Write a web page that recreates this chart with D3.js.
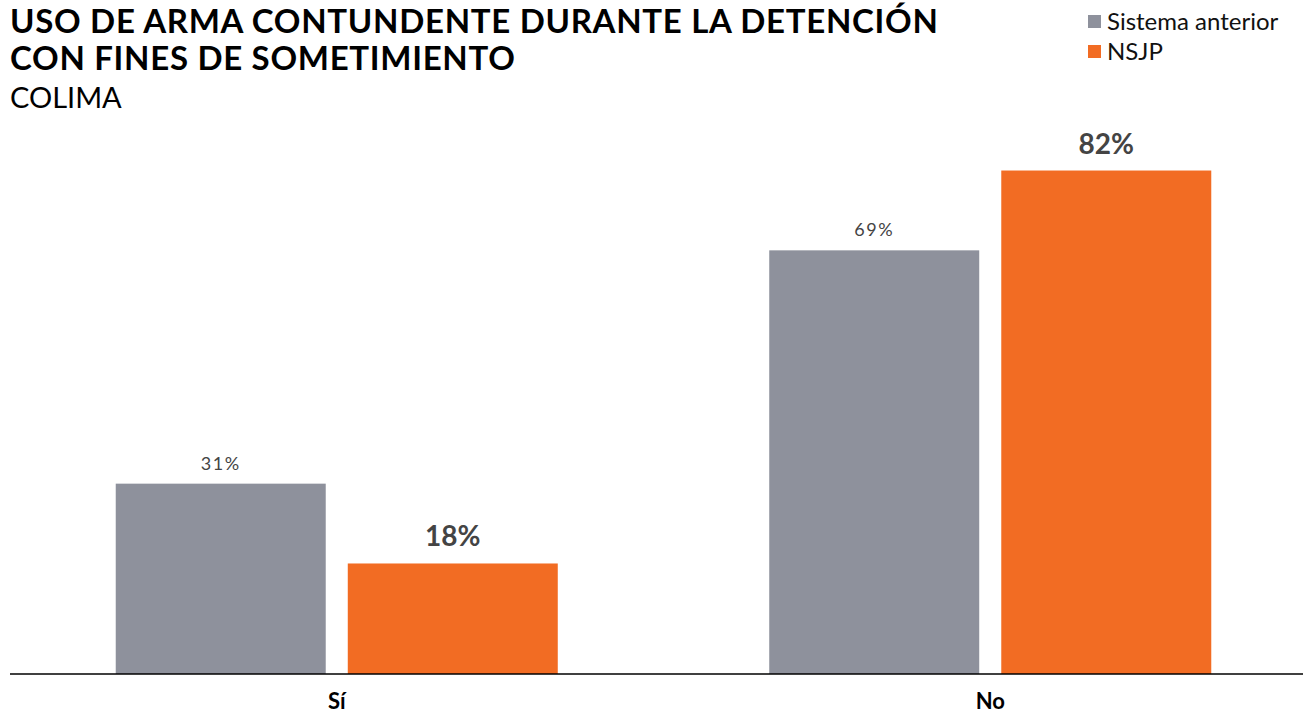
<!DOCTYPE html>
<html>
<head>
<meta charset="utf-8">
<script src="https://cdn.jsdelivr.net/npm/d3@7"></script>
<style>
  body { margin: 0; background: #fff; }
  svg { display: block; font-family: Lato, "Open Sans", sans-serif; }
</style>
</head>
<body>
<div id="chart"></div>
<script>
// data
const categories = ['Sí', 'No']
const seriesNames = ['Sistema anterior', 'NSJP']
const sistemaAnterior = [31, 69]
const nsjp = [18, 82]
const colors = ['#8e919c', '#f26c23']

const width = 1303
const height = 715
const baseline = 674

const svg = d3.select('#chart')
              .append('svg')
              .attr('width', width)
              .attr('height', height)

// title
svg.append('text')
   .attr('x', 10).attr('y', 33)
   .attr('font-size', '33px').attr('font-weight', 'bold').attr('fill', '#000')
   .attr('letter-spacing', '0.7px')
   .text('USO DE ARMA CONTUNDENTE DURANTE LA DETENCIÓN')
svg.append('text')
   .attr('x', 10).attr('y', 70)
   .attr('font-size', '33px').attr('font-weight', 'bold').attr('fill', '#000')
   .attr('letter-spacing', '0.7px')
   .text('CON FINES DE SOMETIMIENTO')
svg.append('text')
   .attr('x', 10).attr('y', 108)
   .attr('font-size', '29px').attr('fill', '#000')
   .text('COLIMA')

// legend
const legend = svg.selectAll('.legend')
                  .data(seriesNames)
                  .join('g')
                  .attr('class', 'legend')
                  .attr('transform', (d, i) => `translate(1088, ${15 + i * 30})`)
legend.append('rect')
      .attr('width', 13).attr('height', 13)
      .attr('fill', (d, i) => colors[i])
legend.append('text')
      .attr('x', 19).attr('y', 15)
      .attr('font-size', '24px').attr('fill', '#111')
      .text(d => d)

// scales
const x0 = d3.scaleBand()
             .domain(categories)
             .range([10, 1317])
             .paddingInner(0.3236)
             .paddingOuter(0.1618)

const x1 = d3.scaleBand()
             .domain(seriesNames)
             .range([0, x0.bandwidth()])
             .paddingInner(0.095)

const y = d3.scaleLinear()
            .domain([0, 100])
            .range([baseline, 60])

const rows = categories.map((c, i) => ({
  cat: c,
  values: [sistemaAnterior[i], nsjp[i]]
}))

const groups = svg.selectAll('.group')
                  .data(rows)
                  .join('g')
                  .attr('class', 'group')
                  .attr('transform', d => `translate(${x0(d.cat)},0)`)

groups.selectAll('rect')
      .data(d => d.values.map((v, i) => ({ s: seriesNames[i], v: v, i: i })))
      .join('rect')
      .attr('x', d => x1(d.s))
      .attr('width', x1.bandwidth())
      .attr('y', d => y(d.v))
      .attr('height', d => baseline - y(d.v))
      .attr('fill', d => colors[d.i])

groups.selectAll('.val')
      .data(d => d.values.map((v, i) => ({ s: seriesNames[i], v: v, i: i })))
      .join('text')
      .attr('class', 'val')
      .attr('x', d => x1(d.s) + x1.bandwidth() / 2)
      .attr('y', d => d.i === 0 ? y(d.v) - 14 : y(d.v) - 17)
      .attr('text-anchor', 'middle')
      .attr('font-size', d => d.i === 0 ? '18px' : '28px')
      .attr('font-weight', d => d.i === 0 ? 'normal' : 'bold')
      .attr('letter-spacing', d => d.i === 0 ? '1.5px' : '0px')
      .attr('fill', '#444')
      .text(d => d.v + '%')

// axis
svg.append('line')
   .attr('x1', 10).attr('x2', width)
   .attr('y1', baseline).attr('y2', baseline)
   .attr('stroke', '#000').attr('stroke-width', 1.5)

svg.selectAll('.cat')
   .data(categories)
   .join('text')
   .attr('class', 'cat')
   .attr('x', d => x0(d) + x0.bandwidth() / 2)
   .attr('y', 709)
   .attr('text-anchor', 'middle')
   .attr('font-size', '22px').attr('font-weight', 'bold').attr('fill', '#000')
   .text(d => d)
</script>
</body>
</html>
